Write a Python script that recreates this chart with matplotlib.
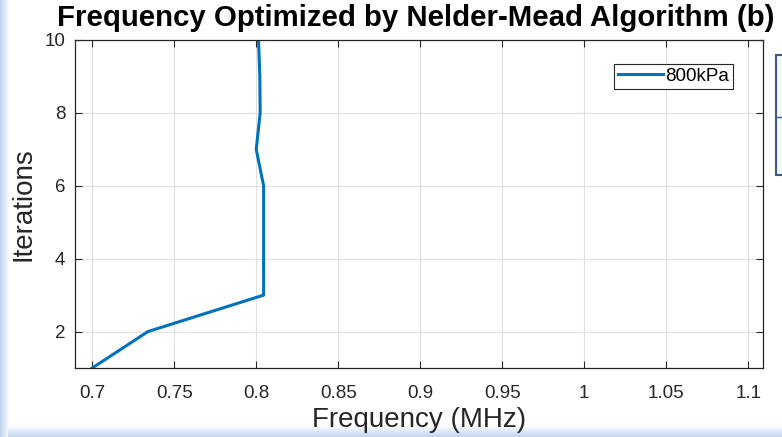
import matplotlib
matplotlib.use("Agg")
import matplotlib.pyplot as plt
import numpy as np
from matplotlib.patches import Rectangle

# Nelder-Mead iterations for the 800 kPa case
iterations = [1, 2, 3, 4, 5, 6, 7, 8, 9, 10]
frequency = [0.700, 0.734, 0.8045, 0.8045, 0.8045, 0.8045, 0.800, 0.8024, 0.8022, 0.8014]
series_label = "800kPa"
xticks = [0.7, 0.75, 0.8, 0.85, 0.9, 0.95, 1.0, 1.05, 1.1]
xticklabels = ["0.7", "0.75", "0.8", "0.85", "0.9", "0.95", "1", "1.05", "1.1"]
yticks = [2, 4, 6, 8, 10]

plt.rcParams['font.family'] = ['Liberation Sans', 'DejaVu Sans']
dark = '#262626'

fig = plt.figure(figsize=(7.82, 4.37), dpi=100)

# screenshot edges: bluish gradient strips and a clipped neighbouring box
grad = np.linspace(0, 1, 64)
left_ax = fig.add_axes([0, 0, 10/782, 1], zorder=-1)
left_ax.imshow(grad[np.newaxis, :], aspect='auto', cmap=matplotlib.colors.LinearSegmentedColormap.from_list(
    'l', ['#bcd0ea', '#ffffff']), extent=[0, 1, 0, 1])
left_ax.axis('off')
bot_ax = fig.add_axes([8/782, 0, 1, 12/437], zorder=-1)
bot_ax.imshow(grad[:, np.newaxis], aspect='auto', cmap=matplotlib.colors.LinearSegmentedColormap.from_list(
    'b', ['#ffffff', '#c4d6ee']), extent=[0, 1, 0, 1], origin='upper')
bot_ax.axis('off')

fig.patches.append(Rectangle((776/782, 1 - 175/437), 10/782, 120/437, transform=fig.transFigure,
                             facecolor='#f4f6fa', edgecolor='#3b5a88', linewidth=1.5))
fig.lines.append(matplotlib.lines.Line2D([776/782, 1], [1 - 117/437, 1 - 117/437],
                                         transform=fig.transFigure, color='#3b5a88', linewidth=1))

ax = fig.add_axes([75/782, 1 - 368/437, 688/782, 328/437])

ax.plot(frequency, iterations, color='#0072BD', linewidth=2.2, label=series_label)

ax.set_xlim(0.6895, 1.109)
ax.set_ylim(1, 10)
ax.set_xticks(xticks)
ax.set_xticklabels(xticklabels)
ax.set_yticks(yticks)
ax.grid(True, color='#e0e0e0', linewidth=0.8)
ax.set_axisbelow(True)
ax.tick_params(direction='in', length=5, width=0.8, colors=dark, labelsize=13.5,
               top=True, right=True, pad=7)
ax.tick_params(axis='x', pad=12)
for s in ax.spines.values():
    s.set_color(dark)
    s.set_linewidth(0.9)

ax.set_title("Frequency Optimized by Nelder-Mead Algorithm (b)", fontsize=21.2,
             fontweight='bold', color='black', pad=10, x=0.495)
ax.set_xlabel("Frequency (MHz)", fontsize=20, color=dark, labelpad=4)
ax.set_ylabel("Iterations", fontsize=20, color=dark, labelpad=6)

leg = ax.legend(loc='upper right', bbox_to_anchor=((733 - 75) / 688, (368 - 64) / 328),
                borderaxespad=0, fontsize=13.5, handlelength=2.4, handletextpad=0.15,
                borderpad=0.2, fancybox=False, framealpha=1)
leg.get_frame().set_edgecolor(dark)
leg.get_frame().set_linewidth(0.8)

fig.savefig("out.png", dpi=100)
